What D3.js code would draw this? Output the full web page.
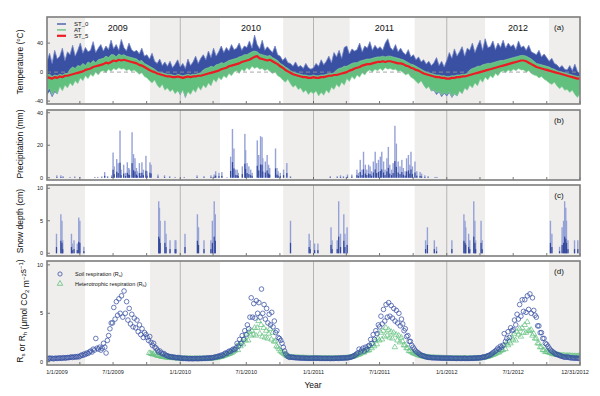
<!DOCTYPE html>
<html>
<head>
<meta charset="utf-8">
<script src="https://cdn.jsdelivr.net/npm/d3@7"></script>
<style>
  body { margin: 0; background: #fff; }
  svg { font-family: "Liberation Sans", Arial, sans-serif; }
</style>
</head>
<body>
<svg id="chart" width="600" height="396"></svg>
<script>
// ---- data ----
var seriesStart = "2009-01-01";
var seriesEnd = "2012-12-31";
var yearLabels = ["2009", "2010", "2011", "2012"];
var yearBreaks = ["2010-01-01", "2011-01-01", "2012-01-01"];
var winterBands = [["2009-01-01", "2009-04-15"], ["2009-10-10", "2010-04-20"],
    ["2010-10-10", "2011-04-10"], ["2011-10-05", "2012-04-15"], ["2012-10-07", "2012-12-31"]];
var xLabelDates = ["2009-01-01", "2009-07-01", "2010-01-01", "2010-07-01", "2011-01-01",
    "2011-07-01", "2012-01-01", "2012-07-01", "2012-12-31"];

// weekly temperatures (degC), Jan 2009 .. Dec 2012
var st5 = [-7,-8,-9,-7,-8, -6,-7,-5,-5, -4,-3,-2,-1, 0,1,3,4, 5,7,8,9,10, 11,13,12,14, 16,15,17,16, 17,16,15,14,13, 12,10,9,7, 5,3,1,0, -2,-3,-4,-5, -6,-6,-7,-7,-6,
    -7,-8,-7,-6,-7, -6,-6,-5,-5, -4,-3,-2,-1, 0,1,2,4, 5,6,8,9,10, 11,12,14,15, 16,17,19,21, 22,19,18,17,16, 17,15,13,11, 8,6,3,1, -1,-3,-4,-5, -6,-7,-7,-8,-8,
    -7,-8,-8,-7,-7, -6,-5,-5,-4, -4,-3,-2,-1, 0,2,3,5, 6,7,9,10,11, 11,12,13,14, 14,15,14,15, 15,14,13,12,12, 11,9,8,6, 5,3,2,0, -2,-3,-4,-5, -6,-7,-7,-8,-8,
    -9,-9,-8,-8,-7, -7,-6,-6,-5, -4,-3,-2,-1, 0,1,2,3, 4,5,6,7,8, 9,10,11,12, 13,14,15,16, 16,15,13,11,9, 7,6,5,4, 3,2,1,0, -1,-2,-3,-4, -5,-6,-7,-8,-9, -9];
var st0Hi = [14,26,12,30,18, 22,33,16,28, 24,37,22,30, 40,26,34,28, 30,42,27,33,38, 29,36,31,44, 32,38,30,45, 34,29,40,31,28, 30,25,33,22, 24,18,26,15, 12,18,9,14, 8,15,6,11,17,
    7,12,5,18,9, 14,22,12,19, 24,17,29,20, 33,22,28,36, 27,34,29,38,31, 33,40,30,36, 34,43,33,51, 38,32,44,30,35, 31,27,36,24, 22,16,20,13, 12,8,14,7, 9,5,12,6,4,
    6,12,8,17,10, 15,22,13,27, 21,30,19,34, 36,25,32,29, 31,40,28,36,33, 42,30,37,32, 35,30,40,46, 34,30,38,28,33, 27,24,31,21, 24,17,21,14, 17,11,15,9, 13,20,9,15,7,
    16,27,19,32,22, 28,35,22,33, 30,40,27,36, 44,30,46,34, 35,43,31,40,34, 44,33,40,35, 38,31,43,34, 36,30,37,28,26, 24,30,21,25, 20,15,19,12, 10,6,9,4, 3,9,2,11,1, -2];
var st0Lo = [-31,-26,-34,-27,-30, -18,-24,-16,-20, -13,-17,-10,-14, -6,-10,-3,-7, -1,-4,2,-2,3, 4,1,6,3, 7,5,8,6, 7,4,6,3,5, 2,-1,1,-4, -6,-10,-13,-9, -16,-20,-15,-23, -20,-25,-22,-28,-24,
    -31,-23,-35,-25,-29, -22,-26,-18,-23, -16,-20,-13,-17, -8,-12,-5,-9, -3,-6,0,-3,2, 4,0,6,3, 8,5,10,7, 9,6,7,4,6, 3,0,2,-3, -5,-9,-12,-8, -14,-19,-16,-22, -20,-26,-23,-29,-25,
    -28,-24,-31,-26,-30, -23,-27,-19,-22, -15,-19,-12,-16, -7,-11,-4,-8, -2,-5,1,-2,3, 5,2,6,4, 7,4,8,6, 7,5,6,3,4, 1,-2,0,-5, -7,-11,-14,-10, -17,-22,-19,-26, -25,-31,-27,-34,-29,
    -33,-28,-35,-30,-33, -25,-29,-21,-24, -16,-20,-13,-17, -8,-12,-5,-9, -3,-6,0,-3,2, 4,1,5,3, 6,4,7,5, 5,2,4,0,-2, -3,-6,-4,-8, -10,-13,-15,-12, -17,-21,-18,-23, -22,-26,-23,-29,-33, -28];
var atHi = [-4,-3,-6,-4,-5, -3,-4,-2,-2, 4,7,5,9, 8,12,9,14, 12,16,13,17,18, 19,22,20,24, 24,21,25,23, 24,22,21,20,19, 18,15,16,12, 10,8,6,4, 1,-1,-1,-2, -3,-3,-4,-5,-3,
    -4,-5,-4,-3,-4, -3,-3,-2,-1, 3,5,6,8, 7,10,11,13, 12,14,16,17,18, 19,21,22,24, 24,26,28,29, 28,25,24,23,22, 23,20,18,16, 12,10,7,5, 2,0,-1,-2, -3,-4,-4,-5,-5,
    -4,-5,-5,-4,-4, -3,-2,-2,-1, 3,5,6,8, 8,10,12,13, 13,15,16,17,18, 18,19,20,21, 21,22,21,22, 22,21,20,19,18, 17,15,13,11, 10,8,6,4, 2,0,-1,-2, -3,-4,-4,-5,-5,
    -6,-6,-5,-5,-4, -4,-3,-3,-2, 3,5,6,8, 8,10,11,12, 12,13,14,15,16, 16,17,18,19, 20,21,22,23, 23,22,20,18,15, 12,11,10,9, 8,7,5,4, 2,1,0,-1, -2,-3,-4,-5,-6, -6];
var atLo = [-28,-22,-32,-25,-30, -20,-26,-18,-22, -15,-19,-12,-16, -8,-12,-5,-9, -3,-6,0,-4,1, 2,-1,4,1, 5,3,6,4, 5,2,4,1,3, 0,-3,-1,-6, -8,-12,-15,-11, -18,-22,-17,-25, -22,-27,-24,-30,-26,
    -30,-25,-34,-27,-31, -24,-28,-20,-25, -18,-22,-15,-19, -10,-14,-7,-11, -5,-8,-2,-5,0, 2,-2,4,1, 6,3,8,5, 7,4,5,2,4, 1,-2,0,-5, -7,-11,-14,-10, -16,-21,-18,-24, -22,-28,-25,-31,-27,
    -30,-26,-33,-28,-32, -25,-29,-21,-24, -17,-21,-14,-18, -9,-13,-6,-10, -4,-7,-1,-4,1, 3,0,4,2, 5,2,6,4, 5,3,4,1,2, -1,-4,-2,-7, -9,-13,-16,-12, -18,-23,-20,-26, -24,-29,-26,-32,-28,
    -31,-27,-34,-29,-33, -26,-30,-22,-25, -18,-22,-15,-19, -10,-14,-7,-11, -5,-8,-2,-5,0, 2,-1,3,1, 4,2,5,3, 3,0,2,-2,-4, -5,-8,-6,-10, -12,-15,-17,-14, -19,-23,-20,-25, -24,-28,-25,-31,-35, -30];
var tempLegend = ["ST_0", "AT", "ST_5"];

// daily precipitation events (mm)
var precipDates = ["2009-01-28","2009-02-08","2009-02-14","2009-03-05","2009-03-18","2009-04-01","2009-05-12","2009-05-20","2009-05-31","2009-06-08","2009-06-16","2009-06-27","2009-07-01","2009-07-04","2009-07-11","2009-07-15","2009-07-20","2009-07-23","2009-07-30","2009-08-04","2009-08-09","2009-08-13","2009-08-15","2009-08-22","2009-08-26","2009-08-30","2009-09-03","2009-09-05","2009-09-11","2009-09-15","2009-09-18","2009-09-22","2009-09-29","2009-10-02","2009-10-10","2009-10-13","2009-11-01","2009-11-19","2009-12-03","2009-12-18",
    "2010-01-12","2010-02-16","2010-03-07","2010-03-26","2010-04-04","2010-04-08","2010-04-17","2010-04-25","2010-05-09","2010-05-19","2010-05-24","2010-05-28","2010-06-02","2010-06-06","2010-06-09","2010-06-20","2010-06-27","2010-06-29","2010-07-03","2010-07-08","2010-07-13","2010-07-17","2010-07-31","2010-08-04","2010-08-09","2010-08-13","2010-08-15","2010-08-22","2010-08-27","2010-08-31","2010-09-03","2010-09-19","2010-09-23","2010-09-26","2010-10-02","2010-10-11","2010-10-20","2010-10-30",
    "2011-02-16","2011-03-07","2011-03-16","2011-03-24","2011-04-04","2011-04-16","2011-04-30","2011-05-04","2011-05-09","2011-05-14","2011-05-18","2011-05-23","2011-05-27","2011-06-01","2011-06-05","2011-06-09","2011-06-14","2011-06-19","2011-06-23","2011-06-28","2011-07-03","2011-07-07","2011-07-12","2011-07-16","2011-07-21","2011-07-25","2011-07-29","2011-08-03","2011-08-07","2011-08-12","2011-08-16","2011-08-21","2011-08-26","2011-08-31","2011-09-04","2011-09-09","2011-09-13","2011-09-18","2011-09-22","2011-09-25","2011-09-29","2011-10-06","2011-10-11","2011-10-20","2011-10-24","2011-11-02","2011-11-11","2011-11-30","2011-12-05"];
var precipValues = [1.5,1.5,1,0.5,0.8,0.5,0.5,0.5,0.8,3.5,1,1.5,15.5,7,11.5,9,29,5,8,3,9.5,6,5,28,14.5,12,6,4,9,3,9.5,5,13.5,4,9.5,8,2,1.5,1,0.5,
    0.5,1.5,1,1.5,2,4,3,3.5,0.3,13,30,18,5,5,3,7,27,17,9,7,5,3,23,14,25.6,25,12,10,14,8,6,18,6,4,3,5,9,1,
    1,1,1.5,1,2,2,5,3,11,5,16,8,5,8,7,4,10,16,9,11,13,16,10,5,12,19,8,5,9,32,21,10,7,11,6,4,12,14,8,16,7,10,4,3.5,2.5,1.5,1,0.5,0.5];

// snow depth (cm)
var snowDates = ["2009-01-27","2009-02-08","2009-02-11","2009-02-13","2009-03-09","2009-03-11","2009-03-16","2009-03-25","2009-03-29","2009-04-01","2009-04-12",
    "2009-11-03","2009-11-05","2009-11-07","2009-11-20","2009-11-23","2009-12-04","2009-12-18","2009-12-20",
    "2010-01-14","2010-02-17","2010-02-20","2010-03-07","2010-03-26","2010-03-30","2010-04-04","2010-04-07","2010-10-30","2010-12-20","2010-12-23",
    "2011-01-04","2011-01-13","2011-02-18","2011-02-21","2011-03-07","2011-03-11","2011-03-16","2011-03-25","2011-03-28","2011-04-03",
    "2011-11-04","2011-11-09","2011-11-28","2011-12-04",
    "2012-01-15","2012-02-17","2012-02-20","2012-02-22","2012-03-01","2012-03-04","2012-03-15","2012-03-18","2012-03-20","2012-04-04","2012-04-07",
    "2012-10-11","2012-10-15","2012-11-05","2012-11-12","2012-11-16","2012-11-19","2012-11-22","2012-11-24","2012-11-28","2012-12-16","2012-12-25"];
var snowValues = [3,6,5,2,3,1.5,2,1.5,5.5,5,1,
    8,7,5,5,3,2,2,2,
    3,6,4,2,2,5,8,6,5,3,2,
    1.5,1.5,4,2,2,8,3,6,3,4,
    2,4,2,1,
    2,6,5,4,3,2,8,5,2,5,2,
    5,3,1,4,5,8,7,5,2,2,2];

// soil respiration Rs, twice weekly, Jan 2009 .. Dec 2012 (umol CO2 m-2 s-1)
var rsValues = [.35,.3,.38,.32,.36,.3,.34,.37,.33, .36,.4,.34,.38,.42,.37,.4,.43, .42,.45,.5,.44,.48,.52,.47,.55,.5, .6,.7,.65,.8,.75,.9,.85,1.0,
    1.1,1.0,1.3,1.2,2.4,1.4,1.3,1.5,1.2, 1.4,1.9,1.5,0.9,2.2,2.7,3.4,4.0, 4.0,5.6,4.4,6.2,4.8,6.5,5.0,6.8,4.6, 7.3,5.0,6.2,4.3,5.5,3.9,4.9,3.6,4.5,
    3.5,4.3,3.1,3.8,2.8,3.4,2.5,3.0, 2.8,2.5,2.2,2.6,2.0,1.7,1.9,1.5,1.4, 1.2,1.0,1.1,.9,.8,.85,.7,.65, .6,.55,.5,.52,.45,.48,.42,.4,.44,.38,
    .38,.35,.33,.36,.32,.34,.3,.33,.31, .32,.3,.34,.31,.33,.3,.35,.32, .34,.36,.33,.38,.35,.4,.37,.42,.4, .45,.5,.48,.55,.6,.58,.7,.65,
    .8,.9,.85,1.0,1.1,1.05,1.2,1.3,1.25, 1.4,1.9,1.6,2.3,1.9,2.7,2.3,3.2, 2.8,3.8,3.4,4.6,6.6,4.6,6.0,4.5,6.3, 5.0,6.1,4.6,7.5,5.0,5.9,4.4,5.5,4.0,
    4.9,3.8,5.1,3.6,4.2,3.0,3.2,2.5, 2.4,2.2,1.9,1.5,1.1,.8,.6,.5,.45, .48,.45,.44,.42,.4,.41,.39,.38, .37,.38,.36,.37,.35,.36,.34,.35,.36,.34,
    .38,.36,.35,.37,.34,.36,.33,.35,.34, .35,.33,.36,.34,.32,.35,.33,.36, .35,.37,.34,.38,.36,.39,.37,.4,.38, .4,.42,.45,.5,.55,.6,.7,.8,
    .9,1.3,1.0,1.2,1.4,1.1,1.5,1.3,1.6, 1.7,2.3,1.9,2.8,2.3,3.2,2.9,3.8, 3.6,4.7,3.9,5.4,4.2,5.9,4.6,6.1,4.7, 5.8,4.5,5.5,4.2,5.3,4.0,5.0,3.7,4.4,
    3.9,3.2,3.4,2.6,2.7,2.1,2.1,1.7, 1.5,1.3,1.1,1.0,.9,.8,.7,.65,.6, .55,.5,.48,.45,.44,.42,.4,.41, .4,.39,.38,.4,.37,.38,.36,.37,.38,.36,
    .36,.38,.35,.37,.34,.36,.35,.33,.36, .34,.35,.33,.36,.34,.35,.33,.34, .35,.36,.34,.37,.36,.38,.37,.4,.39, .42,.45,.5,.48,.55,.6,.65,.7,
    .8,.9,1.0,1.1,1.2,1.4,1.3,1.6,1.5, 1.7,2.9,2.1,2.4,3.1,2.5,3.5,3.2, 3.3,4.3,3.8,4.9,4.4,5.9,4.7,6.4,5.2, 6.4,5.1,6.8,5.4,7.0,5.0,6.6,5.3,4.8,
    4.6,3.7,3.7,3.0,3.0,2.4,2.4,1.9, 1.8,1.6,1.4,1.2,1.1,1.0,.9,.8,.75, .7,.65,.6,.55,.5,.48,.45,.5, .45,.42,.4,.38,.4,.35,.38,.36,.34,.35];

// heterotrophic respiration Rh, twice weekly from Oct 2009
var rhStart = "2009-10-08";
var rhValues = [.9,.85,.8,.75,.9,.7,.65, .6,.62,.55,.5,.52,.48,.45,.44, .42,.4,.41,.38,.39,.37,.36,.38,.35,
    .34,.33,.35,.32,.33,.31,.32,.3,.31, .3,.31,.29,.3,.32,.3,.31,.3, .31,.3,.32,.31,.33,.32,.34,.33,.35, .36,.38,.4,.42,.45,.48,.5,.55,
    .6,.65,.7,.75,.8,.85,.9,1.0,1.1, 1.2,1.6,1.2,1.8,1.6,2.0,1.8,2.4, 2.2,2.9,2.2,3.1,2.7,3.2,2.8,3.5,2.7, 3.5,4.2,2.9,3.8,2.6,3.5,2.5,3.2,2.4,
    2.9,3.4,2.3,3.0,2.1,2.1,1.6,1.5, 1.3,1.1,1.0,.9,.8,.7,.6,.55,.5, .48,.46,.45,.44,.43,.42,.41,.4, .4,.39,.4,.38,.39,.37,.38,.37,.36,.37,
    .36,.35,.37,.34,.36,.35,.34,.36,.35, .34,.35,.33,.34,.36,.35,.34,.33, .35,.34,.36,.35,.37,.36,.38,.37,.39, .4,.42,.45,.48,.5,.55,.6,.65,
    .7,.75,.8,.9,1.0,.95,1.1,1.2,1.15, 1.2,1.6,1.4,1.8,1.6,2.2,1.8,2.4, 2.2,3.0,2.3,3.2,2.6,3.5,2.7,3.3,2.5, 3.1,2.4,3.0,1.5,2.8,2.2,2.7,2.0,2.5,
    2.1,1.7,1.7,1.4,1.4,1.1,1.1,1.0, .9,.85,.8,.75,.7,.65,.6,.58,.55, .52,.5,.48,.46,.45,.44,.43,.42, .41,.4,.39,.4,.38,.39,.37,.38,.37,.36,
    .34,.33,.35,.34,.32,.34,.33,.35,.34, .33,.34,.32,.33,.35,.34,.33,.32, .33,.34,.33,.35,.34,.36,.35,.37,.36, .38,.4,.42,.45,.48,.5,.55,.6,
    .65,.7,.75,.8,.9,1.0,.95,1.1,1.2, 1.2,1.7,1.3,1.9,1.7,2.1,1.9,2.5, 2.3,2.9,2.2,3.1,2.8,3.4,2.6,3.5,3.0, 3.8,3.0,4.1,3.2,3.2,3.3,2.7,2.9,2.4,
    2.4,1.9,1.9,1.5,1.5,1.2,1.2,1.0, 1.05,1.0,.95,.9,.85,.8,.78,.75,.72, .7,.68,.66,.65,.63,.62,.6,.62, .6,.62,.58,.6,.57,.59,.56,.58,.6,.62];

// ---- layout ----
var LEFT = 47, RIGHT = 580;
var panels = [
    {key: "a", top: 17, bottom: 104, domain: [-44, 76], ticks: [-40, 0, 40]},
    {key: "b", top: 110, bottom: 180, domain: [-1.4, 41.7], ticks: [0, 20, 40]},
    {key: "c", top: 185, bottom: 256, domain: [-0.42, 10.5], ticks: [0, 5, 10]},
    {key: "d", top: 261, bottom: 365, domain: [-0.34, 10.4], ticks: [0, 5, 10]}
];
var BLUE = "#3a51a3", GREEN = "#62c07e", RED = "#ec1c24";

var parseDate = d3.timeParse("%Y-%m-%d");
var svg = d3.select("#chart");
var x = d3.scaleTime().domain([parseDate(seriesStart), parseDate(seriesEnd)]).range([LEFT, RIGHT]);

var spacedDates = function(start, end, n) {
    var t0 = parseDate(start).getTime(), t1 = parseDate(end).getTime();
    return d3.range(n).map(function(i) { return new Date(t0 + (t1 - t0) * i / (n - 1)); });
};

var setupPanel = function(p) {
    p.y = d3.scaleLinear().domain(p.domain).range([p.bottom, p.top]);
    var g = svg.append("g").attr("class", "panel-" + p.key);
    svg.append("clipPath").attr("id", "clip-" + p.key)
      .append("rect")
        .attr("x", LEFT).attr("y", p.top)
        .attr("width", RIGHT - LEFT).attr("height", p.bottom - p.top);
    g.selectAll(".band")
        .data(winterBands)
      .enter()
        .append("rect")
        .attr("class", "band")
        .attr("x", function(d) { return x(parseDate(d[0])); })
        .attr("width", function(d) { return x(parseDate(d[1])) - x(parseDate(d[0])); })
        .attr("y", p.top)
        .attr("height", p.bottom - p.top)
        .attr("fill", "#efeeec");
    g.selectAll(".yr")
        .data(yearBreaks)
      .enter()
        .append("line")
        .attr("class", "yr")
        .attr("x1", function(d) { return x(parseDate(d)); })
        .attr("x2", function(d) { return x(parseDate(d)); })
        .attr("y1", p.top).attr("y2", p.bottom)
        .attr("stroke", "#b4b4b4").attr("stroke-width", 1);
    p.g = g;
    p.plot = g.append("g").attr("clip-path", "url(#clip-" + p.key + ")");
    return p;
};

var finishPanel = function(p) {
    var g = p.g;
    var xt = d3.timeMonth.every(3).range(x.domain()[0], x.domain()[1]);
    xt.push(x.domain()[1]);
    g.selectAll(".xt")
        .data(xt.slice(1))
      .enter()
        .append("line")
        .attr("x1", function(d) { return x(d); })
        .attr("x2", function(d) { return x(d); })
        .attr("y1", p.bottom).attr("y2", p.bottom - 3)
        .attr("stroke", "#555").attr("stroke-width", 0.8);
    g.selectAll(".yt")
        .data(p.ticks)
      .enter()
        .append("line")
        .attr("x1", LEFT).attr("x2", LEFT + 3)
        .attr("y1", function(d) { return p.y(d); })
        .attr("y2", function(d) { return p.y(d); })
        .attr("stroke", "#555").attr("stroke-width", 0.8);
    g.selectAll(".ytl")
        .data(p.ticks)
      .enter()
        .append("text")
        .attr("x", LEFT - 4)
        .attr("y", function(d) { return p.y(d); })
        .attr("dy", "0.35em")
        .attr("text-anchor", "end")
        .attr("font-size", 5.5)
        .attr("fill", "#222")
        .text(function(d) { return d; });
    g.append("rect")
        .attr("x", LEFT).attr("y", p.top)
        .attr("width", RIGHT - LEFT).attr("height", p.bottom - p.top)
        .attr("fill", "none")
        .attr("stroke", "#7d7d7d").attr("stroke-width", 1.6);
    g.append("text")
        .attr("x", 559).attr("y", p.top + 13)
        .attr("text-anchor", "middle")
        .attr("font-size", 8)
        .attr("fill", "#111")
        .text("(" + p.key + ")");
};

var yTitle = function(cy, build) {
    var t = svg.append("text")
        .attr("transform", "translate(23," + cy + ") rotate(-90)")
        .attr("text-anchor", "middle")
        .attr("font-size", 8.5)
        .attr("fill", "#111");
    build(t);
    return t;
};

panels.forEach(setupPanel);

// ---- (a) temperature ----
var pa = panels[0];
var tempDates = spacedDates(seriesStart, seriesEnd, st5.length);
var bandArea = function(lo, hi) {
    return d3.area()
        .x(function(d, i) { return x(tempDates[i]); })
        .y0(function(d, i) { return pa.y(lo[i]); })
        .y1(function(d, i) { return pa.y(hi[i]); });
};
pa.plot.append("path").datum(st0Hi)
    .attr("d", bandArea(st0Lo, st0Hi))
    .attr("fill", BLUE).attr("stroke", "#7484c6").attr("stroke-width", 0.8);
pa.plot.append("path").datum(atHi)
    .attr("d", bandArea(atLo, atHi))
    .attr("fill", GREEN).attr("stroke", "#8fd3a1").attr("stroke-width", 0.6);
pa.plot.append("line")
    .attr("x1", LEFT).attr("x2", RIGHT)
    .attr("y1", pa.y(0)).attr("y2", pa.y(0))
    .attr("stroke", "#9a9a9a").attr("stroke-width", 1)
    .attr("stroke-dasharray", "4,3").attr("opacity", 0.85);
pa.plot.append("path").datum(st5)
    .attr("d", d3.line()
        .x(function(d, i) { return x(tempDates[i]); })
        .y(function(d) { return pa.y(d); }))
    .attr("fill", "none").attr("stroke", RED).attr("stroke-width", 2.2)
    .attr("stroke-linejoin", "round");

var legendColours = [BLUE, GREEN, RED];
var legA = pa.g.selectAll(".leg")
    .data(tempLegend)
  .enter()
    .append("g")
    .attr("transform", function(d, i) { return "translate(57," + (24 + i * 5.9) + ")"; });
legA.append("line")
    .attr("x1", 0).attr("x2", 9)
    .attr("stroke", function(d, i) { return legendColours[i]; })
    .attr("stroke-width", function(d, i) { return i === 2 ? 2.2 : 1.3; });
legA.append("text")
    .attr("x", 17).attr("dy", "0.35em")
    .attr("font-size", 6).attr("fill", "#111")
    .text(function(d) { return d; });

pa.g.selectAll(".yl")
    .data(yearLabels)
  .enter()
    .append("text")
    .attr("x", function(d) { return x(parseDate(d + "-07-14")); })
    .attr("y", 31)
    .attr("text-anchor", "middle")
    .attr("font-size", 9).attr("fill", "#111")
    .text(function(d) { return d; });

// ---- bar panels (b), (c) ----
var drawBars = function(p, dates, values) {
    var rows = dates.map(function(d, i) { return {date: parseDate(d), v: values[i]}; });
    p.plot.selectAll(".bar-l")
        .data(rows)
      .enter()
        .append("rect")
        .attr("x", function(d) { return x(d.date) - 0.7; })
        .attr("width", 1.4)
        .attr("y", function(d) { return p.y(d.v); })
        .attr("height", function(d) { return p.y(0) - p.y(d.v); })
        .attr("fill", "#95a2d7");
    p.plot.selectAll(".bar-d")
        .data(rows)
      .enter()
        .append("rect")
        .attr("x", function(d) { return x(d.date) - 0.6; })
        .attr("width", 1.2)
        .attr("y", function(d) { return p.y(d.v * 0.32); })
        .attr("height", function(d) { return p.y(0) - p.y(d.v * 0.32); })
        .attr("fill", "#34489d");
};
drawBars(panels[1], precipDates, precipValues);
drawBars(panels[2], snowDates, snowValues);

// ---- (d) respiration ----
var pd = panels[3];
var rsDates = spacedDates(seriesStart, seriesEnd, rsValues.length);
var rhDates = spacedDates(rhStart, seriesEnd, rhValues.length);
var tri = d3.symbol().type(d3.symbolTriangle).size(13);
pd.plot.selectAll(".rh")
    .data(rhValues)
  .enter()
    .append("path")
    .attr("d", tri)
    .attr("transform", function(d, i) { return "translate(" + x(rhDates[i]) + "," + pd.y(d) + ")"; })
    .attr("fill", "none").attr("stroke", GREEN).attr("stroke-width", 0.7);
pd.plot.selectAll(".rs")
    .data(rsValues)
  .enter()
    .append("circle")
    .attr("cx", function(d, i) { return x(rsDates[i]); })
    .attr("cy", function(d) { return pd.y(d); })
    .attr("r", 2.3)
    .attr("fill", "none").attr("stroke", BLUE).attr("stroke-width", 0.75);

var legD = pd.g.append("g");
legD.append("circle").attr("cx", 60).attr("cy", 274).attr("r", 2.1)
    .attr("fill", "none").attr("stroke", BLUE).attr("stroke-width", 0.8);
legD.append("path").attr("d", tri).attr("transform", "translate(60,283.7)")
    .attr("fill", "none").attr("stroke", GREEN).attr("stroke-width", 0.8);
var legTxt = function(y, main, sub) {
    var t = legD.append("text").attr("x", 75).attr("y", y).attr("dy", "0.35em")
        .attr("font-size", 5.5).attr("fill", "#111");
    t.append("tspan").text(main + " (R");
    t.append("tspan").attr("dy", 1.5).attr("font-size", 4).text(sub);
    t.append("tspan").attr("dy", -1.5).text(")");
};
legTxt(274, "Soil respiration", "s");
legTxt(283.7, "Heterotrophic respiration", "h");

// x tick labels
pd.g.selectAll(".xl")
    .data(xLabelDates)
  .enter()
    .append("text")
    .attr("x", function(d, i) {
        var off = i === 0 ? 10 : (i === xLabelDates.length - 1 ? -5 : 0);
        return x(parseDate(d)) + off;
    })
    .attr("y", 374)
    .attr("text-anchor", "middle")
    .attr("font-size", 5.5).attr("fill", "#222")
    .text(function(d) { return d3.timeFormat("%-m/%-d/%Y")(parseDate(d)); });
svg.append("text").attr("x", 313).attr("y", 388)
    .attr("text-anchor", "middle").attr("font-size", 8.5).attr("fill", "#111")
    .text("Year");

panels.forEach(finishPanel);

// ---- axis titles ----
yTitle(62, function(t) {
    t.append("tspan").text("Temperature (");
    t.append("tspan").attr("dy", -3).attr("font-size", 5.5).text("o");
    t.append("tspan").attr("dy", 3).text("C)");
});
yTitle(144, function(t) { t.text("Precipitation (mm)"); });
yTitle(221, function(t) { t.text("Snow depth (cm)"); });
yTitle(311, function(t) {
    var sub = function(s) { t.append("tspan").attr("dy", 2).attr("font-size", 6).text(s); t.append("tspan").attr("dy", -2).text(""); };
    var sup = function(s) { t.append("tspan").attr("dy", -3).attr("font-size", 6).text(s); t.append("tspan").attr("dy", 3).text(""); };
    t.append("tspan").text("R");
    sub("s");
    t.append("tspan").text(" or R");
    sub("h");
    t.append("tspan").text(" (\u03bcmol CO");
    sub("2");
    t.append("tspan").text(" m");
    sup("\u22122");
    t.append("tspan").text("s");
    sup("\u22121");
    t.append("tspan").text(")");
});
</script>
</body>
</html>
